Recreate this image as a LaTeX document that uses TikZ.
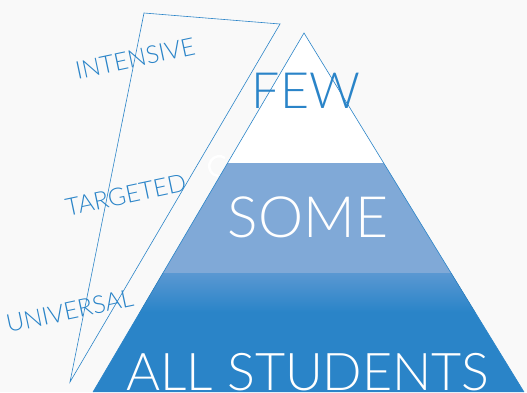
\documentclass[tikz,border=0pt]{standalone}
\usepackage{fontspec}
\setmainfont{Lato}[UprightFont=* Light]
\usepackage{tikz}
\usetikzlibrary{positioning}
\definecolor{pyrblue}{HTML}{2A84C8}
\definecolor{someblue}{HTML}{80A9D7}
\definecolor{midblue}{HTML}{5A98D2}
\definecolor{bggray}{HTML}{F9F9F9}

\begin{document}
\begin{tikzpicture}[x=1pt, y=-1pt,
tiernode/.style={text=pyrblue, rotate=12, anchor=base, inner sep=0pt, font=\fontsize{24.5}{24.5}\selectfont},
levelnode/.style={anchor=base, inner sep=0pt},
edgeline/.style={draw=pyrblue, line width=0.6pt},
]
\useasboundingbox (0,0) rectangle (527,392);
\fill[bggray] (0,0) rectangle (527,392);
%Coordinates
\coordinate (apex) at (304,33);
\coordinate (botL) at (93,392);
\coordinate (botR) at (524,392);
\coordinate (wedgeA) at (144,13);
\coordinate (wedgeB) at (280,24);
\coordinate (wedgeC) at (70,382);

%Stray arc
\draw[white, line width=2.5pt] (225,158) arc[start angle=-55, end angle=-264, radius=10];

%Bands
\begin{scope}
\clip (apex) -- (botL) -- (botR) -- cycle;
\fill[white] (0,30) rectangle (527,163);
\fill[someblue] (0,163) rectangle (527,273);
\fill[top color=midblue, bottom color=pyrblue] (0,273) rectangle (527,312);
\fill[pyrblue] (0,312) rectangle (527,393);
\end{scope}

%Lines
\draw[edgeline] (botL) -- (apex) -- (botR);
\draw[edgeline] (wedgeA) -- (wedgeB) -- (wedgeC) -- cycle;

%Nodes
\node[tiernode] (intensive) at (137,67) {INTENSIVE};
\node[tiernode] (targeted) at (127.5,203.5) {TARGETED};
\node[tiernode] (universal) at (71.5,319.5) {UNIVERSAL};
\node[levelnode, text=pyrblue, font=\fontsize{50}{50}\selectfont] (few) at (306,108) {FEW};
\node[levelnode, text=white, font=\fontsize{57}{57}\selectfont] (some) at (308,237) {SOME};
\node[levelnode, text=white, font=\fontsize{52}{52}\selectfont] (allstudents) at (308,390) {ALL STUDENTS};
\end{tikzpicture}
\end{document}
